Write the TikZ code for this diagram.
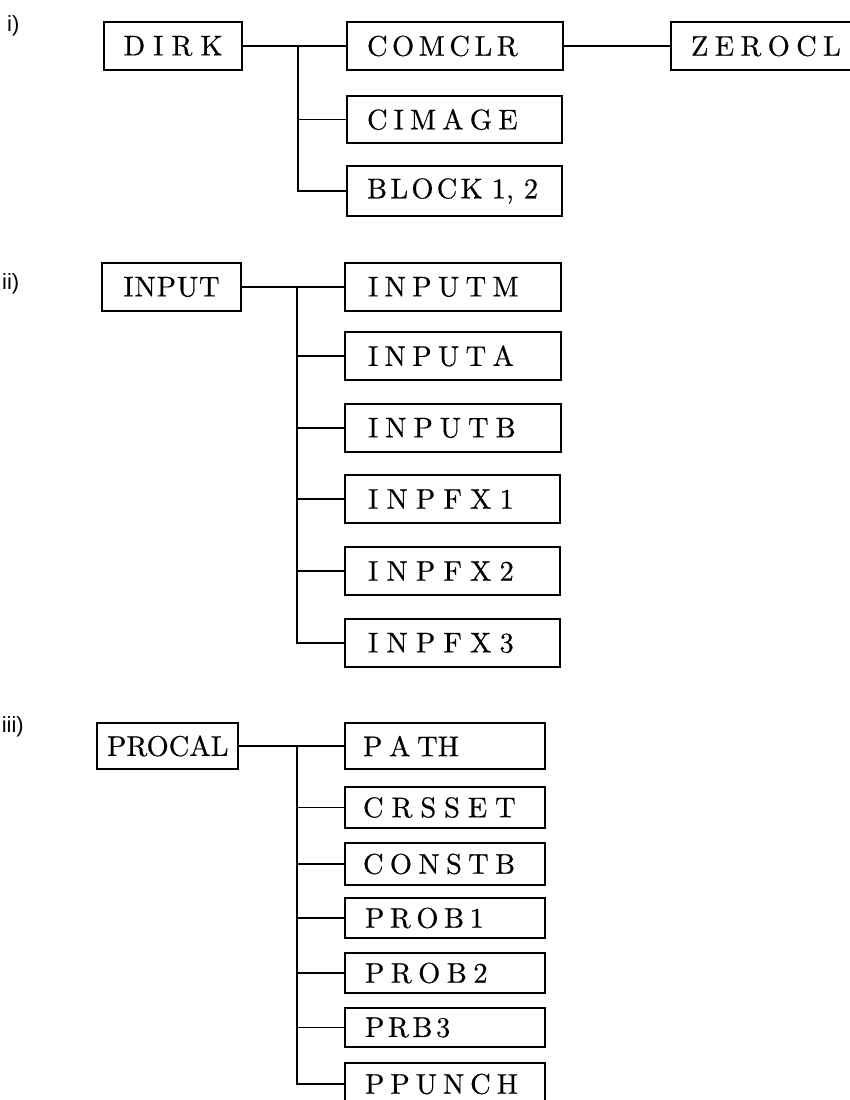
\documentclass[tikz,border=0pt]{standalone}
\usepackage{fontspec}
\newfontfamily\labfont{Liberation Sans}
\newfontfamily\boxfont{lmroman10-regular.otf}[FakeBold=0.5]
\makeatletter
\newcommand\spc[2]{\def\spc@k{#1}\spc@loop#2\relax\kern-\spc@k\relax}
\def\spc@loop#1{\ifx\relax#1\else#1\kern\spc@k\relax\expandafter\spc@loop\fi}
\makeatother
\begin{document}
\begin{tikzpicture}[x=1pt,y=-1pt,
  bx/.style={draw, line width=1.4pt, rectangle, anchor=north west, outer sep=0pt,
    inner ysep=0pt, font=\boxfont\fontsize{28.5}{30}\selectfont},
  lbx/.style={bx, align=left},
  cbx/.style={bx, align=center},
  lab/.style={font=\labfont\fontsize{22}{24}\selectfont, inner sep=0pt},
  con/.style={line width=1.2pt}]
\useasboundingbox (0,0) rectangle (850,1100);
% ---------- i)
\node[lab, anchor=west] (li) at (7,26) {i)};
\node[cbx, text width=118pt, inner xsep=10pt, minimum height=48pt] (dirk) at (104,22) {\spc{8pt}{DIRK}};
\node[lbx, text width=176pt, inner xsep=20pt, minimum height=48pt] (comclr) at (347,22) {\spc{4.5pt}{COMCLR}};
\node[lbx, text width=144pt, inner xsep=20pt, minimum height=48pt] (zerocl) at (671,22) {\spc{6.3pt}{ZEROCL}};
\node[lbx, text width=175pt, inner xsep=20pt, minimum height=47pt] (cimage) at (347,96) {\spc{6.1pt}{CIMAGE}};
\node[lbx, text width=175pt, inner xsep=20pt, minimum height=50pt] (block) at (347,166) {\spc{3.2pt}{BLOCK}\kern9pt1,\kern10pt2};
\coordinate (j1) at (298,46);
\draw[con] (dirk.east) -- (comclr.west);
\draw[con] (j1) |- (cimage.west);
\draw[con] (j1) |- (block.west);
\draw[con] (comclr.east) -- (zerocl.west);
% ---------- ii)
\node[lab, anchor=west] (lii) at (2,284) {ii)};
\node[cbx, text width=119pt, inner xsep=10pt, minimum height=48pt] (input) at (102,263) {\spc{0.8pt}{INPUT}};
\node[lbx, text width=170pt, inner xsep=23pt, minimum height=48pt] (inputm) at (345,263) {\spc{6.3pt}{INPUTM}};
\node[lbx, text width=170pt, inner xsep=23pt, minimum height=48pt] (inputa) at (345,332) {\spc{6.3pt}{INPUTA}};
\node[lbx, text width=170pt, inner xsep=23pt, minimum height=48pt] (inputb) at (345,404) {\spc{6.9pt}{INPUTB}};
\node[lbx, text width=169pt, inner xsep=23pt, minimum height=48pt] (inpfx1) at (345,475) {\spc{8.1pt}{INPFX1}};
\node[lbx, text width=169pt, inner xsep=23pt, minimum height=48pt] (inpfx2) at (345,547) {\spc{8.1pt}{INPFX2}};
\node[lbx, text width=169pt, inner xsep=23pt, minimum height=48pt] (inpfx3) at (345,619) {\spc{8.1pt}{INPFX3}};
\coordinate (j2) at (297,287);
\draw[con] (input.east) -- (inputm.west);
\foreach \n in {inputa,inputb,inpfx1,inpfx2,inpfx3}{\draw[con] (j2) |- (\n.west);}
% ---------- iii)
\node[lab, anchor=east] (liii) at (24,727) {iii)};
\node[cbx, text width=121pt, inner xsep=10pt, minimum height=46pt] (procal) at (97,723) {PROCAL};
\node[lbx, text width=164pt, inner xsep=18pt, minimum height=46pt] (path) at (345,723) {P\kern6.7pt A\kern6.7pt TH};
\node[lbx, text width=164pt, inner xsep=18pt, minimum height=41pt] (crsset) at (345,787) {\spc{7.9pt}{CRSSET}};
\node[lbx, text width=164pt, inner xsep=18pt, minimum height=42pt] (constb) at (345,843) {\spc{6.3pt}{CONSTB}};
\node[lbx, text width=160pt, inner xsep=20pt, minimum height=40pt] (prob1) at (345,898) {\spc{5.5pt}{PROB1}};
\node[lbx, text width=160pt, inner xsep=20pt, minimum height=40pt] (prob2) at (345,953) {\spc{6.4pt}{PROB2}};
\node[lbx, text width=160pt, inner xsep=20pt, minimum height=39pt] (prb3) at (345,1008) {\spc{3.5pt}{PRB3}};
\node[lbx, text width=160pt, inner xsep=20pt, minimum height=42pt] (ppunch) at (345,1063) {\spc{5.9pt}{PPUNCH}};
\coordinate (j3) at (297,746);
\draw[con] (procal.east) -- (path.west);
\foreach \n in {crsset,constb,prob1,prob2,prb3,ppunch}{\draw[con] (j3) |- (\n.west);}
\end{tikzpicture}
\end{document}
